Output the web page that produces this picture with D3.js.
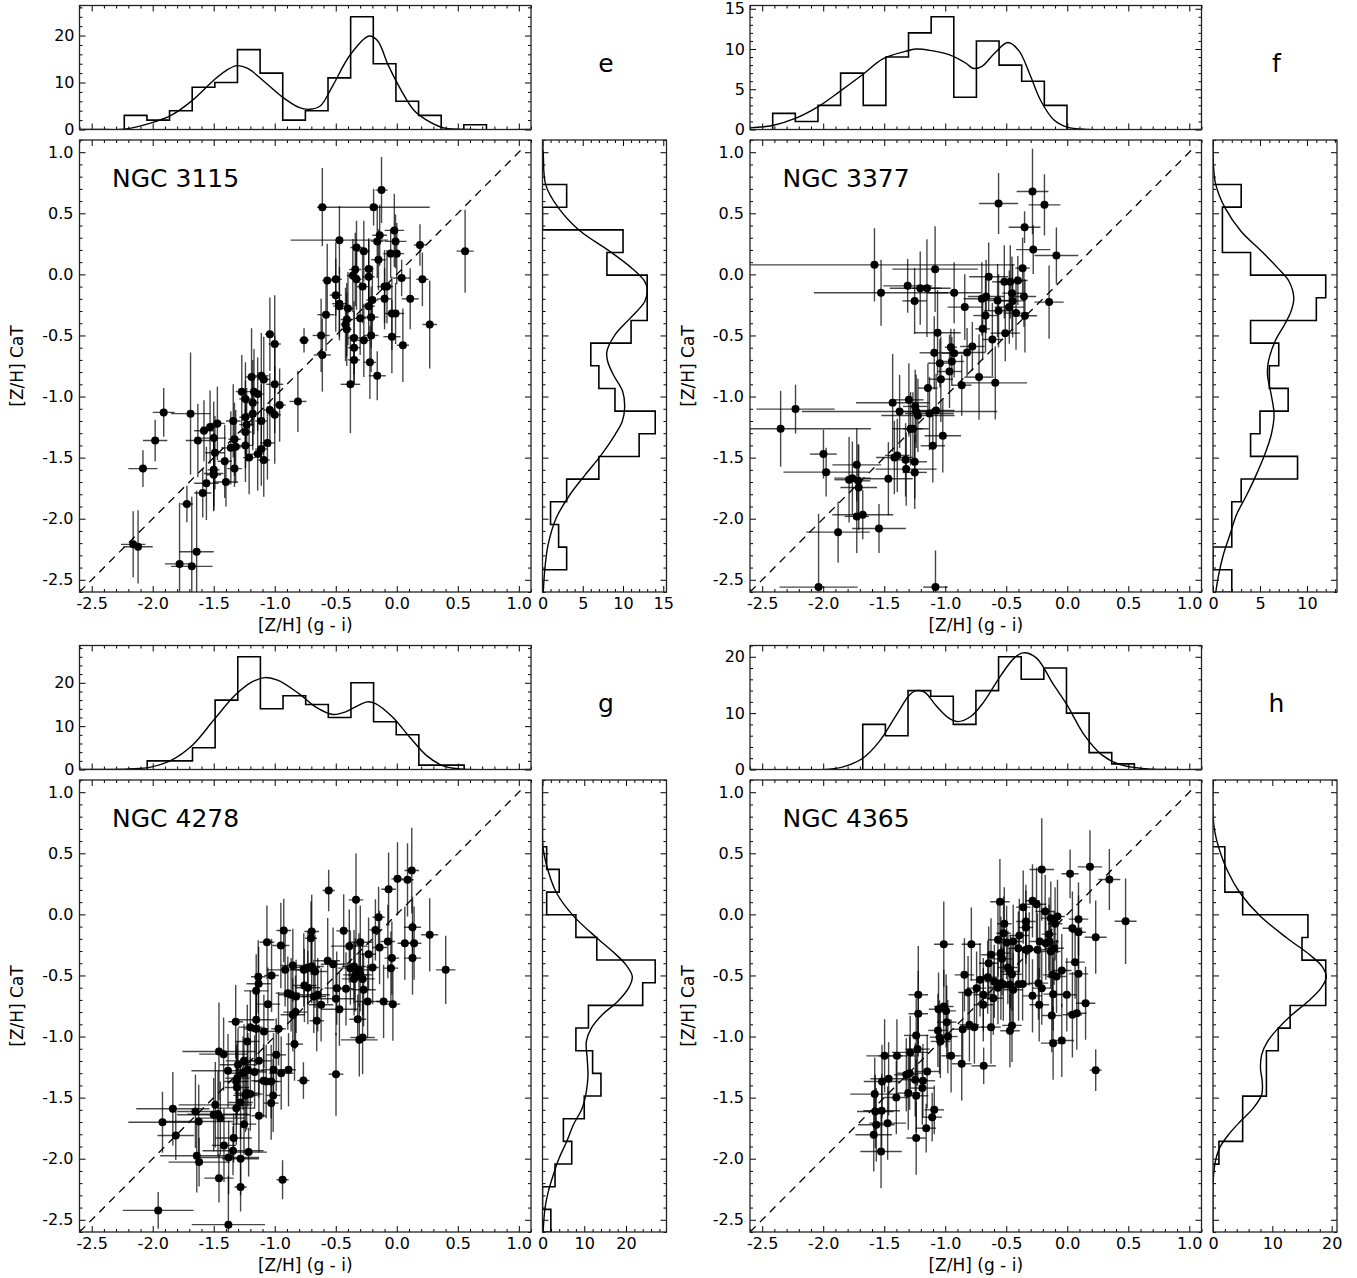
<!DOCTYPE html>
<html><head><meta charset="utf-8">
<script src="https://cdn.jsdelivr.net/npm/d3@7"></script>
<style>body{margin:0;background:#fff} svg{display:block} text{font-family:"DejaVu Sans",sans-serif;fill:#000}</style>
</head><body><svg id="c" width="1357" height="1278"></svg>
<script>
// ---------------- data ----------------
const galaxyNames = ["NGC 3115", "NGC 3377", "NGC 4278", "NGC 4365"];
const panelLetters = ["e", "f", "g", "h"];
const scatterTicks = [-2.5, -2.0, -1.5, -1.0, -0.5, 0.0, 0.5, 1.0];
const axisDomain = [-2.6, 1.1];
const binWidth = 0.1855;

// points: [ [Z/H](g-i), [Z/H] CaT, x error, y error ]
const pointsE = [
[-0.125,0.69,0.05,0.27],[-0.61,0.55,0.04,0.32],[-0.19,0.55,0.46,0.15],[-0.47,0.28,0.40,0.28],
[-0.02,0.36,0.08,0.30],[-0.01,0.27,0.09,0.22],[-0.05,0.17,0.06,0.2],[0.0,0.17,0.06,0.25],
[0.19,0.24,0.05,0.17],[0.56,0.19,0.07,0.34],[-0.33,0.22,0.05,0.22],[-0.27,0.19,0.05,0.25],
[-0.16,0.27,0.05,0.3],[-0.14,0.32,0.06,0.25],[-0.15,0.12,0.06,0.25],[-0.23,0.045,0.04,0.25],
[-0.23,-0.02,0.05,0.3],[-0.34,0.04,0.05,0.3],[-0.36,-0.01,0.05,0.3],[-0.33,-0.04,0.04,0.25],
[-0.57,-0.05,0.04,0.3],[-0.50,-0.04,0.05,0.3],[0.04,-0.03,0.07,0.15],[0.21,-0.04,0.05,0.22],
[-0.28,-0.10,0.05,0.3],[-0.10,-0.10,0.06,0.3],[-0.08,-0.10,0.05,0.3],[-0.50,-0.17,0.05,0.3],
[-0.47,-0.24,0.06,0.3],[-0.47,-0.26,0.05,0.25],[-0.20,-0.21,0.05,0.28],[-0.23,-0.26,0.05,0.25],
[-0.10,-0.20,0.06,0.25],[0.11,-0.20,0.07,0.25],[-0.40,-0.28,0.05,0.3],[-0.58,-0.33,0.07,0.3],
[-0.30,-0.36,0.05,0.3],[-0.21,-0.35,0.06,0.25],[-0.04,-0.32,0.06,0.3],[-0.01,-0.32,0.07,0.25],
[-0.41,-0.37,0.05,0.3],[-0.42,-0.41,0.04,0.3],[-0.41,-0.45,0.04,0.3],[0.27,-0.41,0.06,0.36],
[-0.62,-0.50,0.07,0.3],[-0.35,-0.52,0.05,0.3],[-0.27,-0.54,0.05,0.3],[-0.21,-0.50,0.06,0.3],
[-0.04,-0.51,0.07,0.3],[0.05,-0.58,0.05,0.3],[-0.35,-0.60,0.05,0.3],[-0.61,-0.66,0.07,0.3],
[-0.35,-0.70,0.05,0.2],[-0.22,-0.72,0.05,0.3],[-0.16,-0.83,0.07,0.2],[-0.38,-0.90,0.08,0.4],
[-0.76,-0.54,0.04,0.1],[-1.04,-0.49,0.04,0.3],[-1.00,-0.57,0.05,0.4],[-0.81,-1.04,0.07,0.25],
[-1.00,-0.90,0.07,0.4],[-1.19,-0.84,0.05,0.4],[-1.11,-0.83,0.06,0.35],[-1.09,-0.86,0.05,0.35],
[-1.27,-0.96,0.05,0.3],[-1.17,-0.96,0.05,0.35],[-1.14,-0.98,0.05,0.3],[-1.24,-1.02,0.05,0.3],
[-1.18,-1.05,0.05,0.35],[-1.04,-1.11,0.05,0.3],[-1.00,-1.15,0.05,0.4],[-0.96,-1.07,0.05,0.3],
[-1.18,-1.14,0.05,0.3],[-1.11,-1.20,0.05,0.3],[-1.34,-1.20,0.06,0.3],[-1.24,-1.17,0.05,0.3],
[-1.23,-1.23,0.06,0.3],[-1.24,-1.29,0.05,0.3],[-1.47,-1.22,0.06,0.3],[-1.53,-1.25,0.07,0.3],
[-1.58,-1.28,0.08,0.25],[-1.69,-1.14,0.16,0.5],[-1.91,-1.13,0.09,0.2],[-1.63,-1.36,0.1,0.3],
[-1.50,-1.34,0.1,0.3],[-1.33,-1.35,0.05,0.3],[-1.32,-1.41,0.06,0.3],[-1.36,-1.42,0.08,0.3],
[-1.24,-1.40,0.06,0.3],[-1.06,-1.38,0.06,0.3],[-1.11,-1.43,0.05,0.3],[-1.14,-1.47,0.05,0.3],
[-1.21,-1.50,0.05,0.3],[-1.09,-1.52,0.05,0.3],[-1.49,-1.46,0.08,0.3],[-1.41,-1.53,0.06,0.3],
[-1.33,-1.59,0.06,0.15],[-1.50,-1.60,0.05,0.3],[-1.50,-1.63,0.08,0.3],[-1.50,-1.64,0.06,0.3],
[-1.56,-1.71,0.1,0.3],[-1.59,-1.79,0.07,0.2],[-1.40,-1.70,0.1,0.2],[-1.98,-1.36,0.1,0.17],
[-2.08,-1.59,0.12,0.15],[-1.72,-1.88,0.05,0.15],[-1.64,-2.27,0.14,0.5],[-2.16,-2.21,0.1,0.27],
[-2.12,-2.23,0.12,0.3],[-1.78,-2.37,0.12,0.5],[-1.68,-2.39,0.17,0.57]
];
const pointsF = [
[-0.285,0.678,0.13,0.35],[-0.563,0.58,0.16,0.25],[-0.187,0.569,0.13,0.25],[-0.35,0.386,0.13,0.13],
[-0.279,0.203,0.14,0.2],[-0.089,0.154,0.18,0.23],[-1.58,0.078,1.15,0.3],[-1.526,-0.151,0.55,0.27],
[-1.083,0.043,0.35,0.35],[-1.308,-0.094,0.2,0.22],[-1.205,-0.113,0.25,0.3],[-1.15,-0.113,0.12,0.4],
[-1.251,-0.217,0.1,0.27],[-0.927,-0.151,0.22,0.25],[-0.84,-0.268,0.14,0.27],[-0.644,-0.02,0.16,0.28],
[-0.70,-0.20,0.15,0.3],[-0.665,-0.181,0.15,0.3],[-0.67,-0.337,0.1,0.3],[-0.693,-0.446,0.06,0.25],
[-0.571,-0.214,0.1,0.3],[-0.563,-0.298,0.12,0.3],[-0.516,-0.061,0.1,0.3],[-0.467,-0.061,0.1,0.3],
[-0.405,-0.05,0.08,0.2],[-0.453,-0.154,0.08,0.3],[-0.448,-0.217,0.1,0.3],[-0.475,-0.268,0.12,0.3],
[-0.42,-0.317,0.1,0.3],[-0.366,0.051,0.06,0.25],[-0.355,-0.181,0.1,0.25],[-0.347,-0.339,0.1,0.3],
[-0.149,-0.227,0.12,0.3],[-0.508,-0.481,0.12,0.23],[-0.614,-0.533,0.08,0.3],[-0.778,-0.59,0.1,0.2],
[-0.821,-0.639,0.15,0.2],[-1.063,-0.478,0.19,0.35],[-1.09,-0.642,0.12,0.3],[-0.954,-0.596,0.05,0.15],
[-0.927,-0.645,0.1,0.2],[-0.946,-0.713,0.1,0.2],[-0.965,-0.795,0.1,0.3],[-1.044,-0.727,0.1,0.2],
[-1.036,-0.858,0.1,0.35],[-0.723,-0.841,0.12,0.35],[-0.59,-0.888,0.26,0.3],[-0.865,-0.907,0.08,0.25],
[-1.142,-0.931,0.08,0.2],[-1.431,-1.051,0.3,0.4],[-1.298,-1.027,0.12,0.3],[-1.374,-1.122,0.8,0.3],
[-1.246,-1.081,0.1,0.3],[-1.238,-1.122,0.15,0.3],[-1.224,-1.155,0.3,0.3],[-1.129,-1.139,0.2,0.3],
[-1.075,-1.114,0.15,0.3],[-1.284,-1.264,0.15,0.3],[-1.265,-1.264,0.08,0.3],[-1.02,-1.321,0.15,0.3],
[-1.102,-1.403,0.1,0.3],[-2.227,-1.103,0.32,0.2],[-2.349,-1.264,0.74,0.31],[-1.998,-1.471,0.11,0.2],
[-1.976,-1.619,0.35,0.2],[-1.725,-1.559,0.2,0.3],[-1.788,-1.681,0.12,0.35],[-1.761,-1.668,0.15,0.3],
[-1.714,-1.69,0.1,0.3],[-1.709,-1.744,0.15,0.35],[-1.466,-1.673,0.2,0.3],[-1.417,-1.499,0.15,0.3],
[-1.393,-1.482,0.1,0.3],[-1.325,-1.518,0.1,0.3],[-1.32,-1.594,0.25,0.3],[-1.25,-1.534,0.1,0.3],
[-1.25,-1.621,0.1,0.3],[-1.725,-1.981,0.1,0.3],[-1.676,-1.968,0.25,0.2],[-1.878,-2.11,0.26,0.25],
[-1.543,-2.08,0.22,0.2],[-2.038,-2.56,0.32,0.6],[-1.08,-2.56,0.1,0.3]
];
const pointsG = [
[0.123,0.359,0.06,0.35],[0.006,0.291,0.05,0.3],[0.088,0.283,0.05,0.3],[-0.067,0.206,0.06,0.3],
[-0.558,0.195,0.05,0.17],[-0.334,0.119,0.06,0.38],[-0.149,-0.023,0.05,0.25],[-0.926,-0.132,0.06,0.26],
[-0.697,-0.14,0.06,0.3],[-0.703,-0.195,0.05,0.3],[-0.435,-0.135,0.06,0.3],[-0.175,-0.127,0.05,0.25],
[0.129,-0.105,0.07,0.25],[0.27,-0.167,0.07,0.3],[-0.073,-0.222,0.06,0.3],[0.066,-0.236,0.06,0.3],
[0.142,-0.236,0.06,0.3],[-1.064,-0.228,0.06,0.3],[-0.95,-0.255,0.07,0.35],[-0.389,-0.26,0.15,0.3],
[-0.299,-0.228,0.1,0.3],[-0.141,-0.271,0.06,0.3],[0.129,-0.358,0.07,0.3],[-0.04,-0.358,0.06,0.3],
[-0.231,-0.326,0.06,0.3],[-0.566,-0.38,0.1,0.35],[-0.852,-0.418,0.1,0.3],[-0.915,-0.454,0.15,0.3],
[-0.762,-0.454,0.1,0.3],[-0.729,-0.435,0.1,0.3],[-0.697,-0.427,0.1,0.3],[-0.67,-0.467,0.1,0.3],
[-0.522,-0.408,0.1,0.3],[-0.048,-0.44,0.06,0.3],[-0.198,-0.435,0.05,0.3],[-0.38,-0.44,0.1,0.3],
[-0.35,-0.427,0.1,0.3],[-0.31,-0.454,0.1,0.3],[-0.34,-0.495,0.1,0.3],[-0.30,-0.495,0.1,0.3],
[-0.28,-0.528,0.1,0.3],[-0.35,-0.528,0.1,0.3],[-1.135,-0.511,0.06,0.3],[-1.026,-0.5,0.06,0.3],
[-1.132,-0.568,0.1,0.3],[-1.152,-0.626,0.1,0.3],[-0.893,-0.645,0.1,0.3],[-0.866,-0.658,0.1,0.3],
[-0.825,-0.672,0.1,0.3],[-0.757,-0.582,0.1,0.3],[-0.729,-0.6,0.1,0.3],[-0.68,-0.672,0.1,0.3],
[-0.648,-0.658,0.1,0.3],[-0.62,-0.74,0.1,0.3],[-0.492,-0.604,0.1,0.3],[-0.498,-0.691,0.15,0.3],
[-0.416,-0.609,0.06,0.3],[-0.272,-0.617,0.1,0.3],[-0.239,-0.713,0.1,0.3],[-0.108,-0.713,0.06,0.3],
[-0.032,-0.735,0.06,0.3],[-0.47,-0.776,0.15,0.3],[-1.056,-0.735,0.1,0.3],[-0.83,-0.8,0.1,0.3],
[-0.852,-0.822,0.1,0.3],[-0.656,-0.871,0.06,0.25],[-0.32,-0.858,0.07,0.2],[-1.152,-0.863,0.15,0.3],
[-1.32,-0.879,0.06,0.3],[-1.2,-0.923,0.1,0.3],[-1.152,-0.937,0.1,0.3],[-1.089,-0.958,0.1,0.3],
[-0.969,-0.937,0.06,0.3],[-0.307,-1.027,0.15,0.3],[-0.28,-1.008,0.1,0.3],[-1.225,-1.04,0.1,0.3],
[-0.838,-1.062,0.07,0.3],[-1.457,-1.122,0.3,0.4],[-1.419,-1.144,0.2,0.3],[-1.252,-1.199,0.15,0.3],
[-1.301,-1.231,0.15,0.3],[-1.13,-1.199,0.1,0.3],[-0.988,-1.15,0.08,0.3],[-1.383,-1.28,0.3,0.3],
[-1.22,-1.272,0.1,0.3],[-1.165,-1.29,0.1,0.3],[-1.26,-1.3,0.1,0.3],[-1.01,-1.272,0.1,0.3],
[-0.947,-1.3,0.1,0.3],[-0.887,-1.272,0.06,0.3],[-1.307,-1.34,0.1,0.3],[-1.315,-1.368,0.1,0.3],
[-1.31,-1.417,0.1,0.3],[-1.092,-1.362,0.1,0.3],[-1.07,-1.368,0.1,0.3],[-1.029,-1.368,0.08,0.3],
[-0.765,-1.36,0.05,0.15],[-0.498,-1.308,0.06,0.34],[-1.23,-1.463,0.1,0.3],[-1.2,-1.471,0.1,0.3],
[-1.24,-1.482,0.1,0.3],[-1.013,-1.482,0.06,0.3],[-1.029,-1.545,0.06,0.3],[-1.28,-1.54,0.1,0.3],
[-1.315,-1.586,0.15,0.3],[-1.487,-1.559,0.3,0.35],[-1.835,-1.591,0.3,0.3],[-1.65,-1.613,0.15,0.3],
[-1.5,-1.64,0.3,0.3],[-1.465,-1.635,0.25,0.35],[-1.446,-1.668,0.2,0.3],[-1.623,-1.695,0.28,0.3],
[-1.13,-1.649,0.06,0.3],[-1.92,-1.701,0.28,0.25],[-1.252,-1.717,0.1,0.25],[-1.811,-1.81,0.15,0.2],
[-1.416,-1.891,0.1,0.3],[-1.337,-1.831,0.15,0.2],[-1.342,-1.935,0.25,0.2],[-1.214,-1.946,0.15,0.2],
[-1.639,-1.976,0.3,0.3],[-1.62,-2.028,0.25,0.2],[-1.378,-1.99,0.25,0.3],[-1.28,-2.0,0.15,0.3],
[-1.457,-2.159,0.12,0.2],[-0.936,-2.172,0.05,0.16],[-1.28,-2.232,0.05,0.2],[-1.955,-2.423,0.29,0.15],
[-1.38,-2.54,0.3,0.4],[0.401,-0.454,0.08,0.28]
];
const pointsH = [
[-0.209,0.367,0.1,0.42],[0.023,0.332,0.07,0.2],[0.186,0.389,0.1,0.3],[0.345,0.285,0.09,0.25],
[0.478,-0.056,0.09,0.35],[0.233,-0.187,0.09,0.3],[-0.552,0.103,0.08,0.35],[-0.361,0.059,0.06,0.3],
[-0.285,0.111,0.06,0.3],[-0.252,0.083,0.08,0.3],[-0.181,0.023,0.08,0.3],[-0.135,-0.031,0.08,0.3],
[-0.08,-0.017,0.06,0.3],[0.092,-0.039,0.08,0.3],[0.042,-0.113,0.08,0.3],[0.092,-0.146,0.06,0.3],
[-0.339,-0.058,0.08,0.3],[-0.339,-0.107,0.06,0.3],[-0.516,-0.077,0.06,0.3],[-0.522,-0.154,0.06,0.3],
[-0.149,-0.162,0.06,0.3],[-0.1,-0.077,0.06,0.3],[-0.393,-0.173,0.08,0.3],[-0.568,-0.208,0.08,0.3],
[-0.497,-0.23,0.08,0.3],[-0.443,-0.222,0.08,0.3],[-0.225,-0.222,0.08,0.3],[-0.176,-0.236,0.08,0.3],
[-0.149,-0.222,0.08,0.3],[-0.401,-0.277,0.08,0.3],[-0.339,-0.29,0.08,0.3],[-0.312,-0.282,0.08,0.3],
[-0.244,-0.29,0.08,0.3],[-0.135,-0.304,0.08,0.3],[-0.108,-0.277,0.08,0.3],[-1.012,-0.244,0.08,0.35],
[-0.786,-0.244,0.08,0.3],[-0.625,-0.331,0.08,0.3],[-0.644,-0.4,0.08,0.3],[-0.544,-0.317,0.08,0.3],
[-0.535,-0.364,0.08,0.3],[-0.487,-0.435,0.08,0.3],[-0.467,-0.468,0.08,0.3],[-0.453,-0.49,0.08,0.3],
[0.064,-0.391,0.08,0.3],[-0.045,-0.46,0.08,0.3],[-0.121,-0.495,0.08,0.3],[-0.088,-0.508,0.08,0.3],
[-0.116,-0.653,0.08,0.3],[0.092,-0.487,0.08,0.3],[-0.843,-0.495,0.08,0.3],[-0.715,-0.536,0.08,0.3],
[-0.652,-0.514,0.08,0.3],[-0.598,-0.549,0.08,0.3],[-0.544,-0.563,0.08,0.3],[-0.568,-0.6,0.08,0.3],
[-0.524,-0.571,0.08,0.3],[-0.47,-0.577,0.08,0.3],[-0.443,-0.617,0.08,0.3],[-0.399,-0.571,0.08,0.3],
[-0.366,-0.569,0.08,0.3],[-0.236,-0.563,0.08,0.3],[-0.209,-0.604,0.08,0.3],[-0.813,-0.64,0.08,0.3],
[-0.743,-0.604,0.08,0.3],[-0.688,-0.658,0.08,0.3],[-0.606,-0.686,0.08,0.3],[-0.285,-0.667,0.08,0.3],
[-0.23,-0.74,0.08,0.3],[-0.004,-0.658,0.08,0.3],[-0.688,-0.74,0.08,0.3],[-0.127,-0.828,0.08,0.3],
[0.042,-0.822,0.08,0.35],[0.078,-0.809,0.08,0.3],[0.15,-0.727,0.08,0.3],[-1.055,-0.776,0.08,0.3],
[-0.993,-0.79,0.08,0.3],[-1.012,-0.754,0.08,0.3],[-0.988,-0.882,0.08,0.3],[-1.221,-0.658,0.08,0.4],
[-1.221,-0.814,0.08,0.35],[-0.857,-0.94,0.08,0.3],[-0.802,-0.904,0.08,0.3],[-0.761,-0.923,0.08,0.3],
[-0.625,-0.923,0.08,0.3],[-0.453,-0.909,0.08,0.3],[-0.47,-0.953,0.08,0.3],[-1.06,-0.95,0.08,0.3],
[-1.047,-1.005,0.08,0.3],[-0.979,-1.0,0.08,0.3],[-1.04,-1.04,0.08,0.3],[-1.238,-0.991,0.1,0.3],
[-1.227,-1.103,0.1,0.3],[-0.952,-1.158,0.08,0.3],[-0.865,-1.223,0.08,0.3],[-0.685,-1.24,0.1,0.15],
[-0.116,-1.054,0.1,0.3],[-0.045,-1.032,0.1,0.3],[0.233,-1.275,0.05,0.17],[-1.287,-1.13,0.15,0.3],
[-1.396,-1.158,0.15,0.3],[-1.497,-1.158,0.15,0.3],[-1.464,-1.346,0.15,0.3],[-1.518,-1.368,0.15,0.3],
[-1.578,-1.471,0.2,0.3],[-1.319,-1.313,0.1,0.3],[-1.292,-1.3,0.1,0.3],[-1.246,-1.354,0.1,0.3],
[-1.183,-1.362,0.1,0.3],[-1.148,-1.286,0.1,0.3],[-1.303,-1.463,0.1,0.3],[-1.238,-1.485,0.1,0.3],
[-1.188,-1.422,0.1,0.3],[-1.401,-1.499,0.1,0.3],[-1.573,-1.613,0.15,0.3],[-1.521,-1.608,0.15,0.3],
[-1.565,-1.722,0.15,0.3],[-1.586,-1.804,0.15,0.3],[-1.472,-1.709,0.15,0.3],[-1.526,-1.941,0.17,0.3],
[-1.238,-1.831,0.08,0.3],[-1.156,-1.75,0.08,0.2],[-1.107,-1.66,0.08,0.2],[-1.09,-1.6,0.08,0.2]
];

// top histograms ([Z/H] g-i): first bin edge and counts
const topStartE = -2.233, topCountsE = [3,2,4,9,10,17,12,2,4,11,24,14,6,3,0,1];
const topStartF = -2.414, topCountsF = [2,1,3,7,3,9,12,14,4,11,8,6,3];
const topStartG = -2.045, topCountsG = [2,2,5,16,26,14,17,15,12,20,11,8,1,1];
const topStartH = -1.676, topCountsH = [8,6,14,13,8,14,20,16,18,10,3,1];
// right histograms ([Z/H] CaT): first (lowest) bin edge and counts, bottom to top
const rightStartE = -2.418, rightCountsE = [3,2,1,3,7,12,14,9,7,6,11,13,13,8,10,0,3];
const rightStartF = -2.603, rightCountsF = [2,0,2,2,3,9,4,5,8,6,7,4,11,12,4,1,1,3];
const rightStartG = -2.6,   rightCountsG = [2,0,3,7,5,10,14,12,8,11,24,27,13,8,1,4,1];
const rightStartH = -2.044, rightCountsH = [1,5,5,9,9,11,13,19,19,15,16,5,2,2];

// smooth density curves: [value, count]
const topCurveE = [[-2.6,0],[-2.443,0.02],[-2.233,0.07],[-2.024,1.3],[-1.85,3.0],[-1.675,6.2],[-1.5,10.5],[-1.396,12.6],[-1.309,13.6],[-1.221,13.0],[-1.082,10.1],[-0.942,7.0],[-0.802,4.7],[-0.715,4.3],[-0.628,5.0],[-0.523,9.4],[-0.384,15.8],[-0.227,19.9],[-0.157,18.9],[-0.07,13.7],[0.035,8.4],[0.14,4.1],[0.245,2.0],[0.384,0.35],[0.594,0.0],[1.1,0]];
const topCurveF = [[-2.6,0.2],[-2.414,0.5],[-2.224,1.4],[-2.045,2.8],[-1.866,4.7],[-1.687,6.7],[-1.508,8.8],[-1.329,9.7],[-1.239,10.0],[-1.114,9.8],[-0.97,9.3],[-0.827,8.2],[-0.773,7.6],[-0.702,7.8],[-0.594,9.5],[-0.487,10.8],[-0.397,9.8],[-0.308,6.9],[-0.218,3.6],[-0.111,1.2],[-0.003,0.3],[0.176,0.0],[1.1,0]];
const topCurveG = [[-2.6,0],[-2.199,0.15],[-2.024,0.5],[-1.85,2.1],[-1.675,5.6],[-1.5,11.4],[-1.326,17.1],[-1.186,20.2],[-1.082,21.2],[-0.977,20.6],[-0.802,17.5],[-0.663,14.4],[-0.523,12.7],[-0.419,13.3],[-0.314,14.8],[-0.244,15.6],[-0.174,15.2],[-0.035,12.1],[0.105,7.5],[0.245,3.2],[0.384,0.8],[0.524,0.15],[1.1,0]];
const topCurveH = [[-2.6,0],[-1.973,0.0],[-1.83,0.5],[-1.676,2.0],[-1.543,4.9],[-1.4,9.7],[-1.293,13.2],[-1.239,14.0],[-1.167,13.7],[-1.078,11.4],[-0.97,9.1],[-0.899,8.5],[-0.791,9.4],[-0.684,12.0],[-0.541,16.8],[-0.433,19.8],[-0.361,20.7],[-0.254,19.8],[-0.111,15.0],[-0.003,11.5],[0.14,6.1],[0.283,2.6],[0.427,0.9],[0.606,0.2],[0.856,0],[1.1,0]];
const rightCurveE = [[1.1,0],[0.978,0.1],[0.733,0.4],[0.542,2.0],[0.359,4.6],[0.187,8.4],[0.051,11.1],[-0.058,12.7],[-0.127,13.0],[-0.222,12.7],[-0.358,10.9],[-0.495,9.0],[-0.631,8.0],[-0.713,8.1],[-0.822,8.8],[-0.959,9.96],[-1.095,10.2],[-1.204,9.9],[-1.313,9.0],[-1.477,7.3],[-1.641,5.3],[-1.804,3.4],[-1.995,1.7],[-2.213,0.7],[-2.404,0.3],[-2.6,0.1]];
const rightCurveF = [[1.1,0],[1.033,0],[0.869,0.07],[0.733,0.3],[0.542,1.3],[0.351,3.0],[0.187,5.2],[0.051,6.9],[-0.058,8.1],[-0.195,8.6],[-0.304,8.3],[-0.413,7.6],[-0.549,6.6],[-0.713,5.9],[-0.822,5.8],[-0.986,6.2],[-1.15,6.5],[-1.313,6.2],[-1.477,5.5],[-1.641,4.6],[-1.804,3.6],[-1.968,2.5],[-2.131,1.8],[-2.295,1.1],[-2.459,0.6],[-2.6,0.3]];
const rightCurveG = [[1.1,0],[0.733,0],[0.542,0.15],[0.351,1.4],[0.173,3.4],[-0.012,7.4],[-0.195,13.1],[-0.304,16.8],[-0.413,20.0],[-0.508,21.5],[-0.604,20.6],[-0.713,18.0],[-0.822,14.3],[-0.931,11.7],[-1.04,10.5],[-1.177,10.7],[-1.313,10.9],[-1.45,10.5],[-1.586,9.5],[-1.722,7.4],[-1.859,5.8],[-1.995,4.0],[-2.131,2.6],[-2.268,1.4],[-2.404,0.6],[-2.6,0.15]];
const rightCurveH = [[1.1,0],[0.815,0],[0.678,0.3],[0.542,1.0],[0.351,2.5],[0.173,4.6],[-0.012,7.9],[-0.195,12.5],[-0.331,16.3],[-0.427,18.4],[-0.508,19.1],[-0.604,18.2],[-0.713,16.0],[-0.822,13.3],[-0.931,11.0],[-1.04,9.2],[-1.15,8.2],[-1.259,8.0],[-1.368,8.3],[-1.477,8.2],[-1.586,6.8],[-1.695,4.6],[-1.804,2.6],[-1.913,1.1],[-2.022,0.4],[-2.131,0.1],[-2.24,0],[-2.6,0]];

// tick labels of the histogram count axes
const topTicksE = [0,10,20], topTicksF = [0,5,10,15], topTicksG = [0,10,20], topTicksH = [0,10,20];
const rightTicksE = [0,5,10,15], rightTicksF = [0,5,10], rightTicksG = [0,10,20], rightTicksH = [0,10,20];

// ---------------- layout ----------------
const svg = d3.select("#c");
const L = {sL:79.5, sR:531, sT:140, sB:592, tT:5.5, tB:129.5, rL:542.5, rR:666.5};
const FS = 16;     // tick labels
const FL = 17;     // axis labels
const fmt1 = v => v.toFixed(1);

const panels = [
  {ox:0,     oy:0,   pts:pointsE, tS:topStartE, tC:topCountsE, rS:rightStartE, rC:rightCountsE, tK:topCurveE, rK:rightCurveE, tT:topTicksE, rT:rightTicksE},
  {ox:670.5, oy:0,   pts:pointsF, tS:topStartF, tC:topCountsF, rS:rightStartF, rC:rightCountsF, tK:topCurveF, rK:rightCurveF, tT:topTicksF, rT:rightTicksF},
  {ox:0,     oy:640, pts:pointsG, tS:topStartG, tC:topCountsG, rS:rightStartG, rC:rightCountsG, tK:topCurveG, rK:rightCurveG, tT:topTicksG, rT:rightTicksG},
  {ox:670.5, oy:640, pts:pointsH, tS:topStartH, tC:topCountsH, rS:rightStartH, rC:rightCountsH, tK:topCurveH, rK:rightCurveH, tT:topTicksH, rT:rightTicksH}
];

const minorScatter = d3.range(-26, 12).map(i => i / 10).filter(v => Math.abs(v * 2 - Math.round(v * 2)) > 1e-6);

function styleAxis(g) {
  g.select(".domain").remove();
  g.selectAll(".tick line").attr("stroke", "#000").attr("stroke-width", 1);
  g.selectAll(".tick text").attr("font-size", FS).attr("font-family", "DejaVu Sans").attr("fill", "#000");
}
function addAxis(gen, tx, ty) {
  svg.append("g").attr("transform", `translate(${tx},${ty})`).call(gen).call(styleAxis);
}
function minorOf(ticks, max) {
  const step = ticks[1] - ticks[0];
  const m = step / 5;
  return d3.range(0, Math.floor(max / m) + 1).map(i => i * m).filter(v => Math.abs(v / step - Math.round(v / step)) > 1e-6);
}

panels.forEach((p, i) => {
  const {ox, oy} = p;
  const x = d3.scaleLinear(axisDomain, [ox + L.sL, ox + L.sR]);
  const y = d3.scaleLinear(axisDomain, [oy + L.sB, oy + L.sT]);
  const id = "clip" + i;
  const defs = svg.append("defs");
  defs.append("clipPath").attr("id", id + "s").append("rect")
    .attr("x", ox + L.sL).attr("y", oy + L.sT).attr("width", L.sR - L.sL).attr("height", L.sB - L.sT);
  defs.append("clipPath").attr("id", id + "t").append("rect")
    .attr("x", ox + L.sL).attr("y", oy + L.tT).attr("width", L.sR - L.sL).attr("height", L.tB - L.tT);
  defs.append("clipPath").attr("id", id + "r").append("rect")
    .attr("x", ox + L.rL).attr("y", oy + L.sT).attr("width", L.rR - L.rL).attr("height", L.sB - L.sT);

  // ---- scatter ----
  const sg = svg.append("g").attr("clip-path", `url(#${id}s)`);
  sg.append("line").attr("x1", x(-2.6)).attr("y1", y(-2.6)).attr("x2", x(1.05)).attr("y2", y(1.05))
    .attr("stroke", "#000").attr("stroke-width", 1.3).attr("stroke-dasharray", "8,6");
  const eb = sg.append("g").attr("stroke", "#000").attr("stroke-opacity", 0.72).attr("stroke-width", 1.4);
  eb.selectAll("line.h").data(p.pts).join("line").attr("class", "h")
    .attr("x1", d => x(d[0] - d[2])).attr("x2", d => x(d[0] + d[2])).attr("y1", d => y(d[1])).attr("y2", d => y(d[1]));
  eb.selectAll("line.v").data(p.pts).join("line").attr("class", "v")
    .attr("x1", d => x(d[0])).attr("x2", d => x(d[0])).attr("y1", d => y(d[1] - d[3])).attr("y2", d => y(d[1] + d[3]));
  sg.append("g").selectAll("circle").data(p.pts).join("circle")
    .attr("cx", d => x(d[0])).attr("cy", d => y(d[1])).attr("r", 4).attr("fill", "#000");

  svg.append("text").attr("x", ox + 112).attr("y", oy + 187).attr("font-size", 25).text(galaxyNames[i]);

  addAxis(d3.axisBottom(x).tickValues(scatterTicks).tickSize(-6).tickSizeOuter(0).tickPadding(6).tickFormat(fmt1), 0, oy + L.sB);
  addAxis(d3.axisBottom(x).tickValues(minorScatter).tickSize(-3).tickSizeOuter(0).tickFormat(""), 0, oy + L.sB);
  addAxis(d3.axisTop(x).tickValues(scatterTicks).tickSize(-6).tickSizeOuter(0).tickFormat(""), 0, oy + L.sT);
  addAxis(d3.axisTop(x).tickValues(minorScatter).tickSize(-3).tickSizeOuter(0).tickFormat(""), 0, oy + L.sT);
  addAxis(d3.axisLeft(y).tickValues(scatterTicks).tickSize(-6).tickSizeOuter(0).tickPadding(6).tickFormat(fmt1), ox + L.sL, 0);
  addAxis(d3.axisLeft(y).tickValues(minorScatter).tickSize(-3).tickSizeOuter(0).tickFormat(""), ox + L.sL, 0);
  addAxis(d3.axisRight(y).tickValues(scatterTicks).tickSize(-6).tickSizeOuter(0).tickFormat(""), ox + L.sR, 0);
  addAxis(d3.axisRight(y).tickValues(minorScatter).tickSize(-3).tickSizeOuter(0).tickFormat(""), ox + L.sR, 0);

  svg.append("text").attr("x", (x.range()[0] + x.range()[1]) / 2).attr("y", oy + 631)
    .attr("text-anchor", "middle").attr("font-size", FL).text("[Z/H] (g - i)");
  svg.append("text").attr("transform", `translate(${ox + 23},${(y.range()[0] + y.range()[1]) / 2}) rotate(-90)`)
    .attr("text-anchor", "middle").attr("font-size", FL).text("[Z/H] CaT");

  // ---- top histogram ----
  const tMax = d3.max(p.tC) * 1.1;
  const yt = d3.scaleLinear([0, tMax], [oy + L.tB, oy + L.tT]);
  const tPath = [[p.tS, 0]];
  p.tC.forEach((c, k) => { const e0 = p.tS + k * binWidth; tPath.push([e0, c], [e0 + binWidth, c]); });
  tPath.push([p.tS + p.tC.length * binWidth, 0]);
  const tg = svg.append("g").attr("clip-path", `url(#${id}t)`);
  tg.append("path").attr("d", d3.line().x(d => x(d[0])).y(d => yt(d[1]))(tPath))
    .attr("fill", "none").attr("stroke", "#000").attr("stroke-width", 1.6);
  tg.append("path").attr("d", d3.line().x(d => x(d[0])).y(d => yt(d[1])).curve(d3.curveCatmullRom.alpha(0.5))(p.tK))
    .attr("fill", "none").attr("stroke", "#000").attr("stroke-width", 1.4);
  const tMinor = minorOf(p.tT, tMax);
  addAxis(d3.axisLeft(yt).tickValues(p.tT).tickSize(-6).tickSizeOuter(0).tickPadding(5).tickFormat(d3.format("d")), ox + L.sL, 0);
  addAxis(d3.axisLeft(yt).tickValues(tMinor).tickSize(-3).tickSizeOuter(0).tickFormat(""), ox + L.sL, 0);
  addAxis(d3.axisRight(yt).tickValues(p.tT).tickSize(-6).tickSizeOuter(0).tickFormat(""), ox + L.sR, 0);
  addAxis(d3.axisRight(yt).tickValues(tMinor).tickSize(-3).tickSizeOuter(0).tickFormat(""), ox + L.sR, 0);
  addAxis(d3.axisBottom(x).tickValues(scatterTicks).tickSize(-6).tickSizeOuter(0).tickFormat(""), 0, oy + L.tB);
  addAxis(d3.axisBottom(x).tickValues(minorScatter).tickSize(-3).tickSizeOuter(0).tickFormat(""), 0, oy + L.tB);
  addAxis(d3.axisTop(x).tickValues(scatterTicks).tickSize(-6).tickSizeOuter(0).tickFormat(""), 0, oy + L.tT);
  addAxis(d3.axisTop(x).tickValues(minorScatter).tickSize(-3).tickSizeOuter(0).tickFormat(""), 0, oy + L.tT);

  // ---- right histogram ----
  const rMax = d3.max(p.rC) * 1.1;
  const xr = d3.scaleLinear([0, rMax], [ox + L.rL, ox + L.rR]);
  const rPath = [[p.rS, 0]];
  p.rC.forEach((c, k) => { const e0 = p.rS + k * binWidth; rPath.push([e0, c], [e0 + binWidth, c]); });
  rPath.push([p.rS + p.rC.length * binWidth, 0]);
  const rg = svg.append("g").attr("clip-path", `url(#${id}r)`);
  rg.append("path").attr("d", d3.line().x(d => xr(d[1])).y(d => y(d[0]))(rPath))
    .attr("fill", "none").attr("stroke", "#000").attr("stroke-width", 1.6);
  rg.append("path").attr("d", d3.line().x(d => xr(d[1])).y(d => y(d[0])).curve(d3.curveCatmullRom.alpha(0.5))(p.rK))
    .attr("fill", "none").attr("stroke", "#000").attr("stroke-width", 1.4);
  const rMinor = minorOf(p.rT, rMax);
  addAxis(d3.axisBottom(xr).tickValues(p.rT).tickSize(-6).tickSizeOuter(0).tickPadding(6).tickFormat(d3.format("d")), 0, oy + L.sB);
  addAxis(d3.axisBottom(xr).tickValues(rMinor).tickSize(-3).tickSizeOuter(0).tickFormat(""), 0, oy + L.sB);
  addAxis(d3.axisTop(xr).tickValues(p.rT).tickSize(-6).tickSizeOuter(0).tickFormat(""), 0, oy + L.sT);
  addAxis(d3.axisTop(xr).tickValues(rMinor).tickSize(-3).tickSizeOuter(0).tickFormat(""), 0, oy + L.sT);
  addAxis(d3.axisLeft(y).tickValues(scatterTicks).tickSize(-6).tickSizeOuter(0).tickFormat(""), ox + L.rL, 0);
  addAxis(d3.axisLeft(y).tickValues(minorScatter).tickSize(-3).tickSizeOuter(0).tickFormat(""), ox + L.rL, 0);
  addAxis(d3.axisRight(y).tickValues(scatterTicks).tickSize(-6).tickSizeOuter(0).tickFormat(""), ox + L.rR, 0);
  addAxis(d3.axisRight(y).tickValues(minorScatter).tickSize(-3).tickSizeOuter(0).tickFormat(""), ox + L.rR, 0);

  // frames
  const fr = svg.append("g").attr("fill", "none").attr("stroke", "#222").attr("stroke-width", 1.3);
  fr.append("rect").attr("x", ox + L.sL).attr("y", oy + L.sT).attr("width", L.sR - L.sL).attr("height", L.sB - L.sT);
  fr.append("rect").attr("x", ox + L.sL).attr("y", oy + L.tT).attr("width", L.sR - L.sL).attr("height", L.tB - L.tT);
  fr.append("rect").attr("x", ox + L.rL).attr("y", oy + L.sT).attr("width", L.rR - L.rL).attr("height", L.sB - L.sT);

  svg.append("text").attr("x", ox + 606).attr("y", oy + 72).attr("text-anchor", "middle").attr("font-size", 25).text(panelLetters[i]);
});
</script></body></html>
